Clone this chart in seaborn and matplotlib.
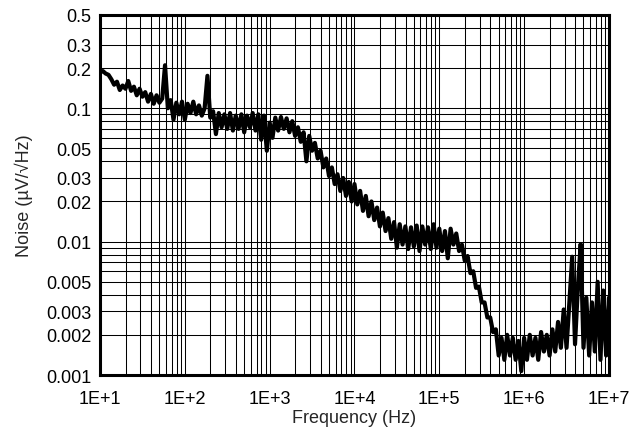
import numpy as np
import pandas as pd
import matplotlib
matplotlib.use("Agg")
import matplotlib.pyplot as plt
import seaborn as sns
from matplotlib.ticker import LogLocator, FixedLocator, FixedFormatter, NullFormatter

# ---- data ----
# frequency grid: 30 points per decade from 1E+1 to 1E+7 Hz
freq_hz = np.logspace(1, 7, 181)

noise_dec1 = [0.185, 0.19, 0.182, 0.178, 0.165, 0.15, 0.158, 0.137, 0.148, 0.14,
              0.16, 0.135, 0.145, 0.125, 0.14, 0.122, 0.132, 0.112, 0.128, 0.108,
              0.125, 0.11, 0.118, 0.21, 0.1, 0.115, 0.082, 0.11, 0.09, 0.112]
noise_dec2 = [0.082, 0.108, 0.092, 0.112, 0.09, 0.105, 0.088, 0.1, 0.175, 0.085,
              0.095, 0.064, 0.092, 0.072, 0.09, 0.07, 0.092, 0.068, 0.088, 0.07,
              0.09, 0.066, 0.088, 0.072, 0.092, 0.068, 0.09, 0.058, 0.088, 0.048]
noise_dec3 = [0.078, 0.06, 0.085, 0.068, 0.086, 0.07, 0.084, 0.066, 0.08, 0.062,
              0.072, 0.056, 0.066, 0.04, 0.062, 0.048, 0.055, 0.042, 0.048, 0.036,
              0.042, 0.031, 0.036, 0.027, 0.032, 0.024, 0.03, 0.022, 0.028, 0.02]
noise_dec4 = [0.027, 0.019, 0.024, 0.017, 0.022, 0.0155, 0.02, 0.0145, 0.018, 0.013,
              0.0165, 0.012, 0.015, 0.0105, 0.014, 0.009, 0.0135, 0.0095, 0.013, 0.0088,
              0.0128, 0.0092, 0.0132, 0.0085, 0.013, 0.0095, 0.0128, 0.0088, 0.0135, 0.009]
noise_dec5 = [0.0125, 0.0085, 0.012, 0.0075, 0.0125, 0.0095, 0.0115, 0.0085, 0.0095, 0.0072,
              0.0078, 0.0058, 0.006, 0.0045, 0.0046, 0.0035, 0.0035, 0.0027, 0.0027, 0.0021,
              0.0022, 0.0014, 0.0019, 0.0013, 0.002, 0.0014, 0.0019, 0.0013, 0.0018, 0.00107]
noise_dec6 = [0.0019, 0.0013, 0.002, 0.0014, 0.0019, 0.0013, 0.0021, 0.0015, 0.002, 0.0014,
              0.0022, 0.0015, 0.0025, 0.0016, 0.0031, 0.0016, 0.0035, 0.0077, 0.0017, 0.0045,
              0.0096, 0.0016, 0.0038, 0.0014, 0.0035, 0.0015, 0.005, 0.0013, 0.0043, 0.0014,
              0.0038]

noise_uv = noise_dec1 + noise_dec2 + noise_dec3 + noise_dec4 + noise_dec5 + noise_dec6

x_ticks = [1e1, 1e2, 1e3, 1e4, 1e5, 1e6, 1e7]
x_tick_labels = ["1E+1", "1E+2", "1E+3", "1E+4", "1E+5", "1E+6", "1E+7"]
y_ticks = [0.001, 0.002, 0.003, 0.005, 0.01, 0.02, 0.03, 0.05, 0.1, 0.2, 0.3, 0.5]
y_tick_labels = ["0.001", "0.002", "0.003", "0.005", "0.01", "0.02", "0.03", "0.05",
                 "0.1", "0.2", "0.3", "0.5"]

df = pd.DataFrame({"Frequency": freq_hz, "Noise": noise_uv})

# ---- style ----
sns.set_style("white")
plt.rcParams["font.family"] = ["Liberation Sans", "DejaVu Sans"]
plt.rcParams["font.size"] = 13

fig = plt.figure(figsize=(6.41, 4.31), dpi=100)
ax = fig.add_axes([0.156, 0.1276, 0.794, 0.8353])

ax.set_xscale("log")
ax.set_yscale("log")
ax.set_xlim(1e1, 1e7)
ax.set_ylim(0.001, 0.5)

# grid lines at every 1..9 multiple
ax.xaxis.set_major_locator(FixedLocator(x_ticks))
ax.xaxis.set_major_formatter(FixedFormatter(x_tick_labels))
ax.xaxis.set_minor_locator(LogLocator(base=10, subs=np.arange(2, 10), numticks=20))
ax.xaxis.set_minor_formatter(NullFormatter())

y_grid = [m * 10.0 ** e for e in (-3, -2, -1) for m in range(1, 10)]
y_grid = [v for v in y_grid if v <= 0.5 + 1e-12]
y_minor = [v for v in y_grid if all(abs(v - t) > 1e-9 for t in y_ticks)]
ax.yaxis.set_major_locator(FixedLocator(y_ticks))
ax.yaxis.set_major_formatter(FixedFormatter(y_tick_labels))
ax.yaxis.set_minor_locator(FixedLocator(y_minor))
ax.yaxis.set_minor_formatter(NullFormatter())

ax.grid(True, which="both", axis="both", color="black", linewidth=0.75)
ax.set_axisbelow(True)

sns.lineplot(data=df, x="Frequency", y="Noise", color="black", linewidth=3.0,
             estimator=None, sort=False, ax=ax, zorder=3)

ax.tick_params(axis="x", which="both", length=0, pad=11, labelsize=13, colors="black")
ax.tick_params(axis="y", which="both", length=0, pad=6, labelsize=13, colors="black")
for s in ax.spines.values():
    s.set_visible(True)
    s.set_color("black")
    s.set_linewidth(2.2)

ax.set_xlabel("Frequency (Hz)", fontsize=13, labelpad=1)
ax.set_ylabel("Noise (\u00b5V/\u221aHz)", fontsize=13, labelpad=10)

fig.savefig("out.png", dpi=100)
